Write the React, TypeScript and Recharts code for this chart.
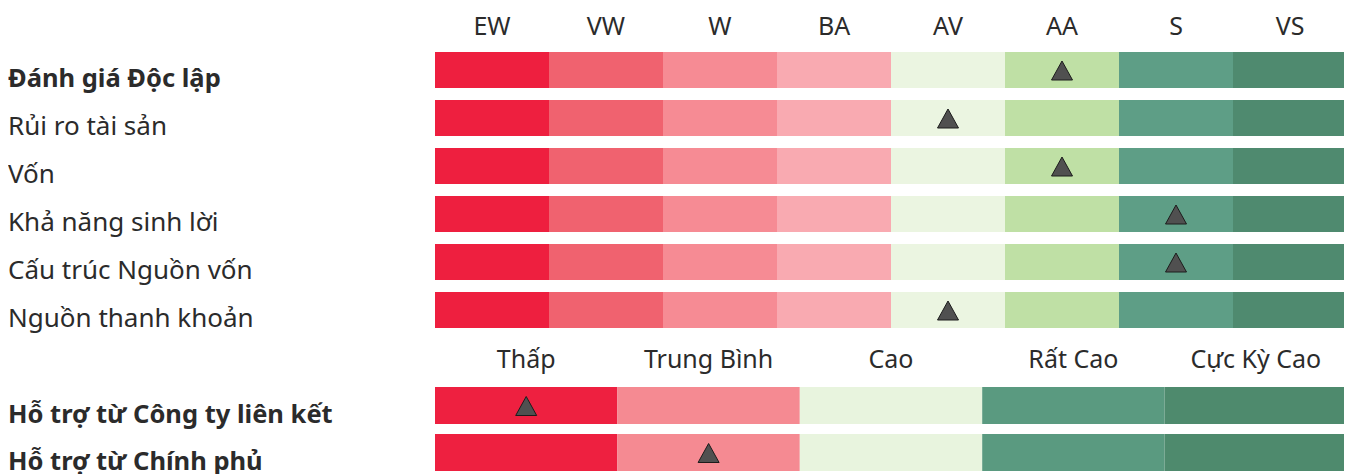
import React from 'react';
import { BarChart, Bar, XAxis, YAxis } from 'recharts';

const ratingScale = ['EW', 'VW', 'W', 'BA', 'AV', 'AA', 'S', 'VS'];
const ratingColors = ['#EE1F3F', '#F0626F', '#F68B94', '#F9AAB1', '#EBF5E1', '#BFE0A5', '#5E9E86', '#4F8A6F'];
const ratingRows = ['Đánh giá Độc lập', 'Rủi ro tài sản', 'Vốn', 'Khả năng sinh lời', 'Cấu trúc Nguồn vốn', 'Nguồn thanh khoản'];
const ratingMarks = ['AA', 'AV', 'AA', 'S', 'S', 'AV'];

const supportScale = ['Thấp', 'Trung Bình', 'Cao', 'Rất Cao', 'Cực Kỳ Cao'];
const supportColors = ['#EE2040', '#F58A92', '#E8F4DE', '#5A9A80', '#4E8A6D'];
const supportRows = ['Hỗ trợ từ Công ty liên kết', 'Hỗ trợ từ Chính phủ'];
const supportMarks = ['Thấp', 'Trung Bình'];

const boldRows = ['Đánh giá Độc lập', 'Hỗ trợ từ Công ty liên kết', 'Hỗ trợ từ Chính phủ'];

const FONT = '"Noto Sans", sans-serif';
const TEXT = '#2b2b2b';

// one row per label, one unit-wide segment per scale step; "mark" = index of the triangle
const buildRows = (rows: string[], scale: string[], marks: string[]) =>
  rows.map((name, i) => {
    const row: any = { name, mark: scale.indexOf(marks[i]) };
    scale.forEach((_, k) => { row['c' + k] = 1; });
    return row;
  });

const Segment = (props: any) => {
  const { x, y, width, height, fill, payload, seg } = props;
  const cx = x + width / 2;
  const cy = y + height / 2 + 0.5;
  return (
    <g>
      <rect x={x} y={y} width={width} height={height} fill={fill} />
      {payload.mark === seg && (
        <polygon
          points={`${cx - 10.5},${cy + 9.5} ${cx + 10.5},${cy + 9.5} ${cx},${cy - 9.5}`}
          fill="#505050"
          stroke="#1c1c1c"
          strokeWidth={1}
        />
      )}
    </g>
  );
};

const RowTick = (props: any) => {
  const { y, payload } = props;
  const bold = boldRows.includes(payload.value);
  return (
    <text x={0} y={y + 17} fill={TEXT} fontSize={bold ? 25.5 : 26} fontFamily={FONT} fontWeight={bold ? 700 : 400} textAnchor="start">
      {payload.value}
    </text>
  );
};

const HeadTick = (props: any) => {
  const { x, y, payload, labels } = props;
  return (
    <text x={x} y={y} fill={TEXT} fontSize={25} fontFamily={FONT} textAnchor="middle">
      {labels[Math.floor(payload.value)]}
    </text>
  );
};

interface ScaleChartProps {
  rows: string[];
  scale: string[];
  colors: string[];
  marks: string[];
  height: number;
  top: number;
  bottom: number;
  barSize: number;
  tickMargin: number;
}

const ScaleChart: React.FC<ScaleChartProps> = ({ rows, scale, colors, marks, height, top, bottom, barSize, tickMargin }) => {
  const data = buildRows(rows, scale, marks);
  const ticks = scale.map((_, k) => k + 0.5);
  return (
    <BarChart
      width={1344}
      height={height}
      data={data}
      layout="vertical"
      margin={{ top, right: 5, bottom, left: 0 }}
      barSize={barSize}
    >
      <XAxis
        type="number"
        orientation="top"
        domain={[0, scale.length]}
        ticks={ticks}
        height={30}
        axisLine={false}
        tickLine={false}
        tickSize={0}
        tickMargin={tickMargin}
        interval={0}
        tick={<HeadTick labels={scale} />}
      />
      <YAxis type="category" dataKey="name" width={427} axisLine={false} tickLine={false} tick={<RowTick />} interval={0} />
      {scale.map((s, k) => (
        <Bar
          key={s}
          dataKey={'c' + k}
          stackId="a"
          fill={colors[k]}
          isAnimationActive={false}
          shape={(p: any) => <Segment {...p} seg={k} />}
        />
      ))}
    </BarChart>
  );
};

export default function App() {
  return (
    <div style={{ width: 1344, marginTop: -8, background: '#fff' }}>
      <ScaleChart rows={ratingRows} scale={ratingScale} colors={ratingColors} marks={ratingMarks}
        height={342} top={16} bottom={8} barSize={36} tickMargin={11} />
      <ScaleChart rows={supportRows} scale={supportScale} colors={supportColors} marks={supportMarks}
        height={136} top={10} bottom={2} barSize={37} tickMargin={14} />
    </div>
  );
}
